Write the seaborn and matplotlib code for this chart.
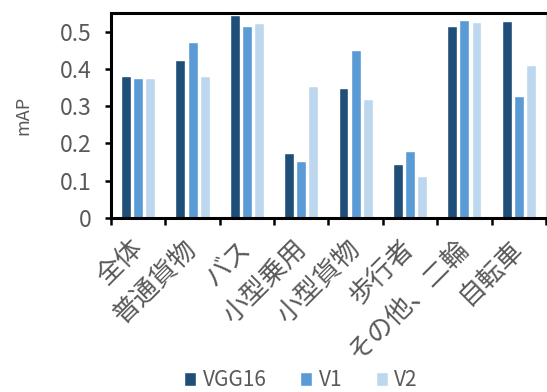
import matplotlib
matplotlib.use("Agg")
import matplotlib.pyplot as plt
import seaborn as sns
import pandas as pd
import numpy as np

# data
categories = ['全体', '普通貨物', 'バス', '小型乗用', '小型貨物', '歩行者', 'その他、二輪', '自転車']
vgg16 = [0.382, 0.424, 0.544, 0.174, 0.349, 0.144, 0.515, 0.529]
v1 = [0.375, 0.471, 0.516, 0.153, 0.450, 0.180, 0.530, 0.328]
v2 = [0.375, 0.382, 0.523, 0.353, 0.319, 0.112, 0.526, 0.410]
models = ['VGG16', 'V1', 'V2']
colors = ['#1F4E79', '#5B9BD5', '#BDD7EE']

df = pd.DataFrame({
    'cat': categories * 3,
    'mAP': vgg16 + v1 + v2,
    'model': np.repeat(models, len(categories))})

sns.set_style('white')
plt.rcParams['font.family'] = ['Noto Sans CJK JP', 'DejaVu Sans']
txt = '#595959'

fig = plt.figure(figsize=(5.47, 3.92), dpi=100)
ax = fig.add_axes([0.203, 0.444, 0.795, 0.523])

sns.barplot(data=df, x='cat', y='mAP', hue='model', hue_order=models,
            palette=colors, saturation=1, width=0.67, gap=0.18, ax=ax, legend=True)

handles, labels = ax.get_legend_handles_labels()
ax.legend_.remove()

ax.set_ylim(0, 0.55)
ax.set_xlim(-0.5, len(categories) - 0.5)
ax.set_yticks([0, 0.1, 0.2, 0.3, 0.4, 0.5])
ax.set_yticklabels(['0', '0.1', '0.2', '0.3', '0.4', '0.5'])
ax.tick_params(axis='y', labelsize=16.5, labelcolor=txt, length=4, width=1.8,
               color='black', left=True, pad=10)

ax.set_xticks(range(len(categories)))
ax.set_xticklabels(categories, rotation=45, ha='right', va='center',
                   rotation_mode='anchor', fontsize=19, color=txt)
ax.tick_params(axis='x', length=0, pad=19)
ax.set_xticks(np.arange(-0.5, len(categories), 1), minor=True)
ax.tick_params(axis='x', which='minor', length=5, width=1.8, color='black', bottom=True)

ax.set_xlabel('')
ax.set_ylabel('mAP', fontsize=13, color=txt, labelpad=20)

for s in ['top', 'bottom', 'left']:
    ax.spines[s].set_linewidth(2.2)
    ax.spines[s].set_color('black')
ax.spines['right'].set_color('#D9D9D9')
ax.spines['right'].set_linewidth(1)

fig.legend(handles, labels, loc='center', bbox_to_anchor=(0.55, 0.03), ncol=3,
           frameon=False, fontsize=15, labelcolor=txt, handlelength=0.6,
           handleheight=0.6, handletextpad=0.3, columnspacing=1.6)

fig.savefig('out.png', dpi=100)
